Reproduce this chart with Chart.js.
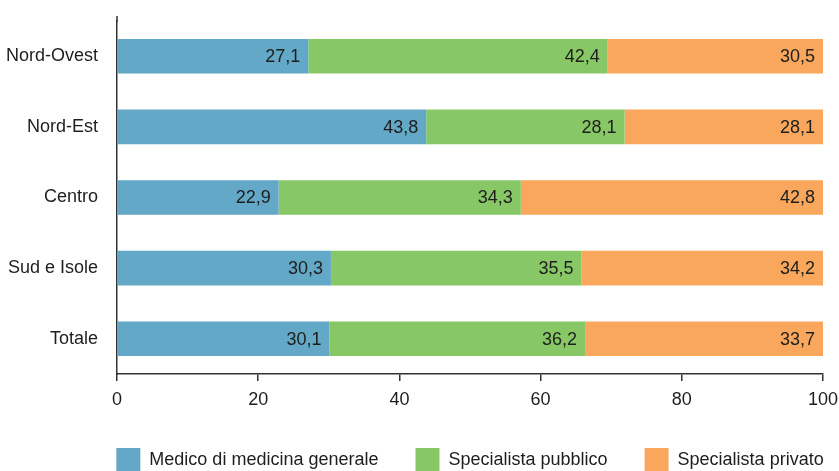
<!DOCTYPE html>
<html>
<head>
<meta charset="utf-8">
<script src="https://cdn.jsdelivr.net/npm/chart.js@4/dist/chart.umd.min.js"></script>
<style>
  html, body { margin: 0; padding: 0; background: #fff; overflow: hidden; }
  #wrap { position: relative; width: 839px; height: 482px; }
</style>
</head>
<body>
<div id="wrap"><canvas id="ripartizione"></canvas></div>
<script>
const regioni = ["Nord-Ovest", "Nord-Est", "Centro", "Sud e Isole", "Totale"];
const medicoGenerale = [27.1, 43.8, 22.9, 30.3, 30.1];
const specialistaPubblico = [42.4, 28.1, 34.3, 35.5, 36.2];
const specialistaPrivato = [30.5, 28.1, 42.8, 34.2, 33.7];
const tickAsseX = [0, 20, 40, 60, 80, 100];

const FONT = "'Liberation Sans', Arial, sans-serif";
const SIZE = 18;
const INK = "#1e1e1e";

// etichette dei valori dentro le barre, allineate a destra
const valoriNelleBarre = {
    id: "valoriNelleBarre",
    afterDatasetsDraw(chart) {
        const ctx = chart.ctx;
        ctx.save();
        ctx.font = SIZE + "px " + FONT;
        ctx.fillStyle = INK;
        ctx.textAlign = "right";
        ctx.textBaseline = "middle";
        chart.data.datasets.forEach((ds, i) => {
            chart.getDatasetMeta(i).data.forEach((bar, j) => {
                const txt = ds.data[j].toFixed(1).replace(".", ",");
                ctx.fillText(txt, bar.x - 8, bar.y + 1);
            });
        });
        ctx.restore();
    }
};

// asse verticale più lungo + legenda centrata sull'area del grafico
const ritocchi = {
    id: "ritocchi",
    afterLayout(chart) {
        const lg = chart.legend;
        const w = lg.right - lg.left;
        const c = (chart.chartArea.left + chart.chartArea.right) / 2;
        lg.left = c - w / 2;
        lg.right = c + w / 2;
    },
    afterDraw(chart) {
        const ctx = chart.ctx;
        const x = chart.chartArea.left;
        ctx.save();
        ctx.strokeStyle = "#333";
        ctx.lineWidth = 1.5;
        ctx.beginPath();
        ctx.moveTo(x, 16);
        ctx.lineTo(x, chart.chartArea.top + 1);
        ctx.stroke();
        ctx.restore();
    }
};

new Chart(document.getElementById("ripartizione"), {
    type: "bar",
    data: {
        labels: regioni,
        datasets: [
            { label: "Medico di medicina generale", data: medicoGenerale, backgroundColor: "#63a8c6" },
            { label: "Specialista pubblico", data: specialistaPubblico, backgroundColor: "#88c766" },
            { label: "Specialista privato", data: specialistaPrivato, backgroundColor: "#f8a75d" }
        ]
    },
    options: {
        indexAxis: "y",
        responsive: true,
        maintainAspectRatio: false,
        animation: false,
        layout: { padding: { top: 21, right: 16, left: 0, bottom: 0 } },
        datasets: {
            bar: { barPercentage: 0.49, categoryPercentage: 1, borderWidth: 0 }
        },
        scales: {
            x: {
                stacked: true,
                min: 0,
                max: 100,
                afterBuildTicks: (scale) => { scale.ticks = tickAsseX.map(v => ({ value: v })); },
                afterFit: (scale) => {
                    scale.height = 37;
                    scale.paddingLeft = 0;
                    scale.paddingRight = 0;
                },
                grid: { drawOnChartArea: false, drawTicks: true, tickLength: 7, color: "#333", lineWidth: 1.5 },
                border: { display: true, color: "#333", width: 1.5 },
                ticks: { font: { family: FONT, size: SIZE }, color: INK, padding: 8, maxRotation: 0 }
            },
            y: {
                stacked: true,
                afterFit: (scale) => {
                    scale.width = 117;
                    scale.paddingTop = 0;
                    scale.paddingBottom = 0;
                },
                grid: { display: false, drawTicks: false },
                border: { display: true, color: "#333", width: 1.5 },
                ticks: { font: { family: FONT, size: SIZE }, color: INK, padding: 19 }
            }
        },
        plugins: {
            legend: {
                position: "bottom",
                labels: {
                    boxWidth: 24,
                    boxHeight: 24,
                    padding: 37,
                    color: INK,
                    font: { family: FONT, size: SIZE }
                }
            },
            tooltip: { enabled: false }
        }
    },
    plugins: [valoriNelleBarre, ritocchi]
});
</script>
</body>
</html>
